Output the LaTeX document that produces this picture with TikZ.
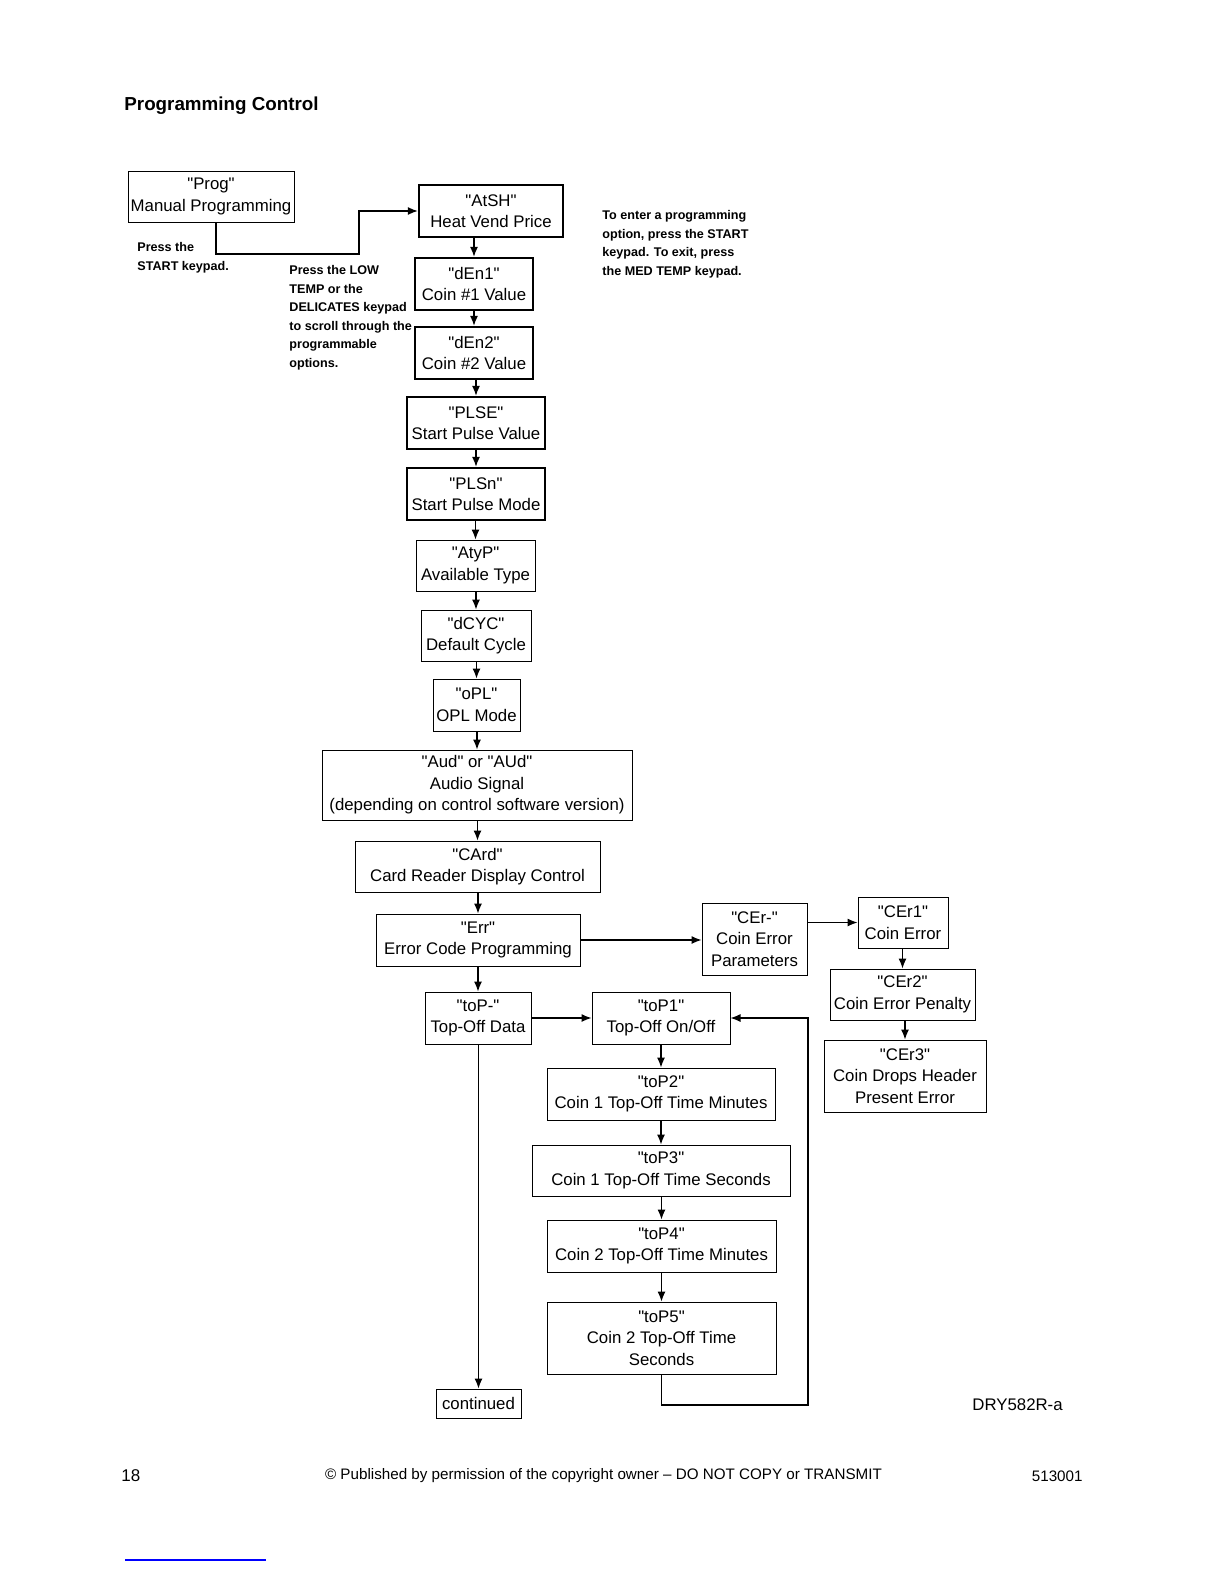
\documentclass[tikz,border=0pt]{standalone}
\usepackage{fontspec}
\setmainfont{Liberation Sans}[Ligatures=TeXOff]
\usetikzlibrary{arrows.meta}

\tikzstyle{block} = [rectangle, draw, line width=0.5pt, align=center, inner sep=0pt, font=\fontsize{8.4}{10.75}\selectfont]
\tikzstyle{heavy block} = [block, line width=1.2pt]
\tikzstyle{note} = [anchor=north west, align=left, inner sep=0pt, font=\bfseries\fontsize{6.3}{9.3}\selectfont]
\tikzstyle{arrow} = [draw, line width=0.6pt, -{Latex[length=5pt,width=4pt]}]
\tikzstyle{line} = [draw, line width=0.6pt]

\begin{document}
\begin{tikzpicture}[x=0.5pt, y=-0.5pt]
    \useasboundingbox (0,0) rectangle (1224,1584);

    % title and notes
    \node[anchor=west, inner sep=0pt, font=\bfseries\fontsize{9.4}{11}\selectfont] (title) at (124,106) {Programming Control};
    \node[note] (startnote) at (137,242) {Press the\\START keypad.};
    \node[note] (scrollnote) at (289,265) {Press the LOW\\TEMP or the\\DELICATES keypad\\to scroll through the\\programmable\\options.};
    \node[note] (enternote) at (602,210) {To enter a programming\\option, press the START\\keypad. To exit, press\\the MED TEMP keypad.};

    % main column
    \node[block, minimum width=83pt, minimum height=25.5pt] (prog) at (211,196.5) {"Prog"\\Manual Programming};
    \node[heavy block, minimum width=72pt, minimum height=26pt] (atsh) at (491,211) {"AtSH"\\Heat Vend Price};
    \node[heavy block, minimum width=59pt, minimum height=26pt] (den1) at (474,284) {"dEn1"\\Coin \#1 Value};
    \node[heavy block, minimum width=59pt, minimum height=26pt] (den2) at (474,353) {"dEn2"\\Coin \#2 Value};
    \node[heavy block, minimum width=69pt, minimum height=26pt] (plse) at (476,423) {"PLSE"\\Start Pulse Value};
    \node[heavy block, minimum width=69pt, minimum height=26pt] (plsn) at (476,494) {"PLSn"\\Start Pulse Mode};
    \node[block, minimum width=59.5pt, minimum height=25.5pt] (atyp) at (475.5,565.5) {"AtyP"\\Available Type};
    \node[block, minimum width=55pt, minimum height=25.5pt] (dcyc) at (476,635.5) {"dCYC"\\Default Cycle};
    \node[block, minimum width=43.5pt, minimum height=26pt] (opl) at (476.5,705) {"oPL"\\OPL Mode};
    \node[block, minimum width=155pt, minimum height=35pt] (aud) at (477,785) {"Aud" or "AUd"\\Audio Signal\\(depending on control software version)};
    \node[block, minimum width=122.5pt, minimum height=25.5pt] (card) at (477.5,866.5) {"CArd"\\Card Reader Display Control};
    \node[block, minimum width=102pt, minimum height=26pt] (err) at (478,940) {"Err"\\Error Code Programming};

    % coin error branch
    \node[block, minimum width=52.5pt, minimum height=36pt] (cerx) at (754.5,939) {"CEr-"\\Coin Error\\Parameters};
    \node[block, minimum width=45pt, minimum height=25.5pt] (cer1) at (903,922.5) {"CEr1"\\Coin Error};
    \node[block, minimum width=72.5pt, minimum height=25.5pt] (cer2) at (902.5,994.5) {"CEr2"\\Coin Error Penalty};
    \node[block, minimum width=81pt, minimum height=36pt] (cer3) at (905,1076) {"CEr3"\\Coin Drops Header\\Present Error};

    % top-off branch
    \node[block, minimum width=53pt, minimum height=26pt] (topx) at (478,1018) {"toP-"\\Top-Off Data};
    \node[block, minimum width=69pt, minimum height=26pt] (top1) at (661,1018) {"toP1"\\Top-Off On/Off};
    \node[block, minimum width=114pt, minimum height=26pt] (top2) at (661,1094) {"toP2"\\Coin 1 Top-Off Time Minutes};
    \node[block, minimum width=129pt, minimum height=25.5pt] (top3) at (661,1170.5) {"toP3"\\Coin 1 Top-Off Time Seconds};
    \node[block, minimum width=114.5pt, minimum height=26pt] (top4) at (661.5,1246) {"toP4"\\Coin 2 Top-Off Time Minutes};
    \node[block, minimum width=114.5pt, minimum height=36pt] (top5) at (661.5,1338) {"toP5"\\Coin 2 Top-Off Time\\Seconds};
    \node[block, minimum width=42.5pt, minimum height=14.5pt] (cont) at (478.5,1403.5) {continued};

    % footer
    \node[anchor=west, inner sep=0pt, font=\fontsize{8.4}{10}\selectfont] (drawno) at (972,1405) {DRY582R-a};
    \node[anchor=west, inner sep=0pt, font=\fontsize{8.5}{10}\selectfont] (page) at (121,1476) {18};
    \node[inner sep=0pt, font=\fontsize{7.6}{9}\selectfont] (notice) at (603.5,1476) {© Published by permission of the copyright owner – DO NOT COPY or TRANSMIT};
    \node[anchor=east, inner sep=0pt, font=\fontsize{7.6}{9}\selectfont] (partno) at (1083,1476) {513001};
    \draw[blue, line width=0.6pt] (125,1560) -- (266,1560);

    % lines
    \coordinate (startbend) at (359,254);
    \draw [arrow] ([xshift=2.5pt]prog.south) |- (startbend) |- (atsh.west);
    \foreach \a/\b in {atsh/den1, den1/den2, den2/plse, plse/plsn, plsn/atyp, atyp/dcyc, dcyc/opl, opl/aud, aud/card, card/err, err/topx, topx/cont, cer1/cer2, cer2/cer3, top1/top2, top2/top3, top3/top4, top4/top5}
        \draw [arrow] (\a.south -| \b.north) -- (\b.north);
    \draw [arrow] (err.east) -- (err.east -| cerx.west);
    \draw [arrow] (cerx.east |- cer1.west) -- (cer1.west);
    \draw [arrow] (topx.east) -- (top1.west);
    \coordinate (loopback) at (808,1405);
    \draw [arrow] (top5.south) |- (loopback) |- (top1.east);
\end{tikzpicture}
\end{document}
